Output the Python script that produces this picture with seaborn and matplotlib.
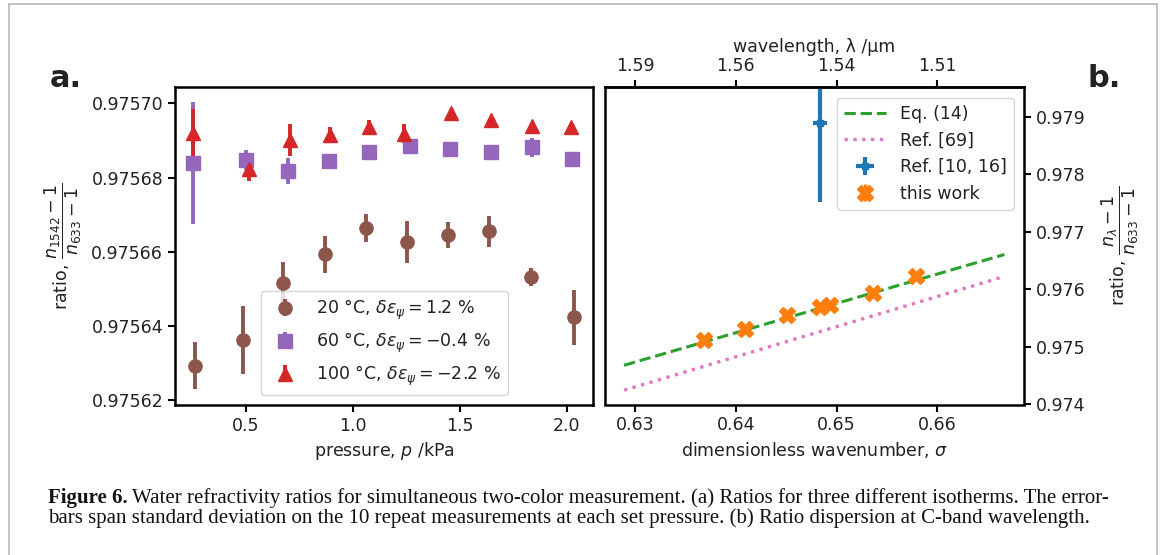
import numpy as np
import matplotlib
matplotlib.use("Agg")
import matplotlib.pyplot as plt
import matplotlib.ticker as ticker
from matplotlib.lines import Line2D
import seaborn as sns

# === DATA ===
# (a) ratio vs pressure, three isotherms
p_20 = [0.263, 0.489, 0.676, 0.871, 1.062, 1.252, 1.444, 1.637, 1.833, 2.034]
r_20 = [0.9756293, 0.9756362, 0.9756517, 0.9756593, 0.9756664,
        0.9756627, 0.9756646, 0.9756655, 0.9756533, 0.9756423]
e_20 = [6.4e-6, 9.1e-6, 5.5e-6, 5.0e-6, 3.7e-6, 5.7e-6, 3.5e-6, 4.1e-6, 2.4e-6, 7.4e-6]

p_60 = [0.255, 0.500, 0.696, 0.888, 1.076, 1.268, 1.455, 1.645, 1.836, 2.023]
r_60 = [0.9756839, 0.9756846, 0.9756818, 0.9756845, 0.9756869,
        0.9756885, 0.9756878, 0.9756868, 0.9756881, 0.9756850]
e_60 = [16.5e-6, 2.7e-6, 3.5e-6, 0.6e-6, 0.6e-6, 0.8e-6, 0.6e-6, 0.6e-6, 2.5e-6, 0.6e-6]

p_100 = [0.255, 0.515, 0.707, 0.894, 1.077, 1.240, 1.458, 1.645, 1.836, 2.020]
r_100 = [0.9756920, 0.9756823, 0.9756902, 0.9756915, 0.9756935,
         0.9756918, 0.9756973, 0.9756955, 0.9756940, 0.9756936]
e_100 = [6.6e-6, 3.3e-6, 4.3e-6, 2.0e-6, 2.0e-6, 2.6e-6, 0.5e-6, 0.5e-6, 0.5e-6, 0.5e-6]

labels_a = [r"20 °C, $\delta\epsilon_\psi = 1.2$ %",
            r"60 °C, $\delta\epsilon_\psi = -0.4$ %",
            r"100 °C, $\delta\epsilon_\psi = -2.2$ %"]

# (b) ratio vs dimensionless wavenumber
sigma_eq14 = [0.62891, 0.66665]
ratio_eq14 = [0.974681, 0.976605]
sigma_ref69 = [0.62891, 0.66665]
ratio_ref69 = [0.974248, 0.976224]

sigma_ref = [0.64834]
ratio_ref = [0.978896]
ratio_ref_err = [0.00138]
sigma_ref_err = [0.0007]

sigma_this = [0.63688, 0.64096, 0.64513, 0.64834, 0.64933, 0.65357, 0.65787]
ratio_this = [0.975127, 0.975317, 0.975548, 0.975691, 0.975721, 0.975934, 0.976224]
ratio_this_err = [3e-5] * 7

labels_b = ["Eq. (14)", "Ref. [69]", "Ref. [10, 16]", "this work"]

# ticks
xticks_a = [0.5, 1.0, 1.5, 2.0]
yticks_a = [0.97562, 0.97564, 0.97566, 0.97568, 0.97570]
xticks_b = [0.63, 0.64, 0.65, 0.66]
wl_labels = ["1.59", "1.56", "1.54", "1.51"]
yticks_b = [0.974, 0.975, 0.976, 0.977, 0.978, 0.979]

caption_1 = ("Water refractivity ratios for simultaneous two-color measurement. "
             "(a) Ratios for three different isotherms. The error-")
caption_2 = ("bars span standard deviation on the 10 repeat measurements at each set "
             "pressure. (b) Ratio dispersion at C-band wavelength.")

# === STYLE ===
sns.set_style("ticks")
plt.rcParams.update({
    "font.family": ["DejaVu Sans"],
    "font.size": 12.5,
    "mathtext.fontset": "dejavusans",
    "axes.linewidth": 1.8,
    "axes.edgecolor": "black",
    "axes.labelcolor": "#222222",
    "text.color": "#222222",
    "xtick.color": "black",
    "ytick.color": "black",
    "xtick.labelcolor": "#222222",
    "ytick.labelcolor": "#222222",
    "xtick.major.width": 1.5,
    "ytick.major.width": 1.5,
    "xtick.major.size": 5,
    "ytick.major.size": 5,
    "legend.fontsize": 12.5,
})

W, H = 1166, 555
fig = plt.figure(figsize=(W / 100, H / 100), dpi=100)
ax_a = fig.add_axes([175 / W, 1 - 405 / H, (593.3 - 175) / W, (405 - 87) / H])
ax_b = fig.add_axes([605 / W, 1 - 404.5 / H, (1024 - 605) / W, (404.5 - 87.3) / H])

# === (a) ===
series_a = [
    (p_20, r_20, e_20, "#8c564b", "o"),
    (p_60, r_60, e_60, "#9467bd", "s"),
    (p_100, r_100, e_100, "#d62728", "^"),
]
for (p, r, e, c, m), lab in zip(series_a, labels_a):
    ax_a.errorbar(p, r, yerr=e, fmt=m, color=c, ms=9.5, elinewidth=2.8,
                  capsize=0, label=lab)

ax_a.set_xlim(0.1696, 2.1243)
ax_a.set_ylim(0.9756187, 0.9757044)
ax_a.set_xticks(xticks_a)
ax_a.set_yticks(yticks_a)
ax_a.yaxis.set_major_formatter(ticker.FormatStrFormatter("%.5f"))
ax_a.set_xlabel(r"pressure, $p$ /kPa")
ax_a.set_ylabel(r"ratio, $\dfrac{n_{1542}-1}{n_{633}-1}$", labelpad=5)
ax_a.legend(loc="lower center", borderaxespad=0.6)

# === (b) ===
sns.lineplot(x=sigma_eq14, y=ratio_eq14, ax=ax_b, color="#2ca02c",
             linestyle="--", linewidth=2.2, label=labels_b[0])
sns.lineplot(x=sigma_ref69, y=ratio_ref69, ax=ax_b, color="#e377c2",
             linestyle=":", linewidth=2.4, label=labels_b[1])
ax_b.errorbar(sigma_ref, ratio_ref, yerr=ratio_ref_err, xerr=sigma_ref_err,
              fmt="s", ms=5, color="#1f77b4", elinewidth=3, capsize=0,
              label=labels_b[2])
ax_b.errorbar(sigma_this, ratio_this, yerr=ratio_this_err, fmt="X", ms=12,
              color="#ff7f0e", elinewidth=2.5, capsize=0, label=labels_b[3])

ax_b.set_xlim(0.62702, 0.6686)
ax_b.set_ylim(0.974, 0.97951)
ax_b.set_xticks(xticks_b)
ax_b.set_yticks(yticks_b)
ax_b.yaxis.set_major_formatter(ticker.FormatStrFormatter("%.3f"))
ax_b.yaxis.tick_right()
ax_b.yaxis.set_label_position("right")
ax_b.set_xlabel(r"dimensionless wavenumber, $\sigma$")
ax_b.set_ylabel(r"ratio, $\dfrac{n_\lambda-1}{n_{633}-1}$", rotation=90, labelpad=10)
ax_b.legend(loc="upper right", handlelength=2.4, borderaxespad=0.6)

top = ax_b.secondary_xaxis("top")
top.set_xticks(xticks_b, labels=wl_labels)
top.set_xlabel("wavelength, λ /µm")

# panel letters
fig.text(50 / W, 1 - 87 / H, "a.", fontsize=22, fontweight="bold", va="baseline")
fig.text(1087 / W, 1 - 87 / H, "b.", fontsize=22, fontweight="bold", va="baseline")

# caption
cap_font = dict(family="Liberation Serif", fontsize=15, color="#111111", va="baseline")
rend = fig.canvas.get_renderer()
t1 = fig.text(48 / W, 1 - 503 / H, "Figure 6.", fontweight="bold", **cap_font)
bb = t1.get_window_extent(rend)
fig.text((bb.x1 + 4) / W, 1 - 503 / H, caption_1, **cap_font)
fig.text(48 / W, 1 - 523 / H, caption_2, **cap_font)

# light frame around the figure
frame = dict(color="#b4b4b4", lw=1.1, transform=fig.transFigure)
fig.add_artist(Line2D([9 / W, 1157 / W], [1 - 4 / H, 1 - 4 / H], **frame))
fig.add_artist(Line2D([9 / W, 9 / W], [0, 1 - 4 / H], **frame))
fig.add_artist(Line2D([1157 / W, 1157 / W], [0, 1 - 4 / H], **frame))

fig.savefig("out.png", dpi=100)
